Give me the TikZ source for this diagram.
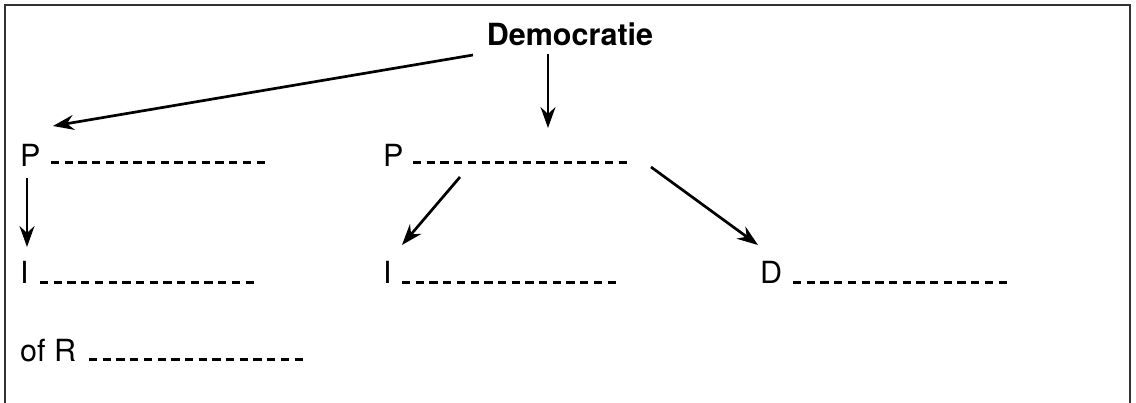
\documentclass[tikz,border=0pt]{standalone}
\usepackage{fontspec}
\setmainfont{TeX Gyre Heros}
\usetikzlibrary{arrows.meta}
\begin{document}
\begin{tikzpicture}[x=1pt,y=-1pt,
  lbl/.style={anchor=base west,inner sep=0pt,font=\fontsize{30.5}{34}\selectfont},
  title/.style={anchor=base,inner sep=0pt,font=\fontsize{30.5}{34}\selectfont\bfseries},
  blank/.style={line width=3pt,dash pattern=on 8.3pt off 5.4pt},
  conn/.style={line width=2.7pt,-{Stealth[length=21pt,width=15pt,inset=7pt]}}]
\useasboundingbox (0,0) rectangle (1136,403);
\draw[line width=1.5pt,black!80] (5,420) -- (5,5) -- (1130,5) -- (1130,420);
% texts
\node[title] (dem) at (570,46) {Democratie};
\node[lbl] (p1) at (20,167) {P};
\node[lbl] (p2) at (383,167) {P};
\node[lbl] (i1) at (20,284) {I};
\node[lbl] (i2) at (383,284) {I};
\node[lbl] (d) at (760,284) {D};
\node[lbl] (or) at (20,362) {of R};
% blanks
\coordinate (b1s) at (51,163); \coordinate (b1e) at (266,163);
\coordinate (b2s) at (413,163); \coordinate (b2e) at (628,163);
\coordinate (b3s) at (40,283); \coordinate (b3e) at (254,283);
\coordinate (b4s) at (402,283); \coordinate (b4e) at (617,283);
\coordinate (b5s) at (793,283); \coordinate (b5e) at (1007,283);
\coordinate (b6s) at (89,360); \coordinate (b6e) at (304,360);
\foreach \s/\e in {b1s/b1e,b2s/b2e,b3s/b3e,b4s/b4e,b5s/b5e,b6s/b6e}
  \draw[blank] (\s) -- (\e);
% arrow endpoints
\coordinate (a1s) at (473,55); \coordinate (a1e) at (53,126);
\coordinate (a2s) at (548,54); \coordinate (a2e) at (548,128);
\coordinate (a3s) at (27,178); \coordinate (a3e) at (27,247);
\coordinate (a4s) at (460,177); \coordinate (a4e) at (402,245);
\coordinate (a5s) at (651,167); \coordinate (a5e) at (758,245);
\draw[conn] (a1s) -- (a1e);
\draw[conn] (a2s) -- (a2e);
\draw[conn,line width=2.2pt] (a3s) -- (a3e);
\draw[conn] (a4s) -- (a4e);
\draw[conn] (a5s) -- (a5e);
\end{tikzpicture}
\end{document}
